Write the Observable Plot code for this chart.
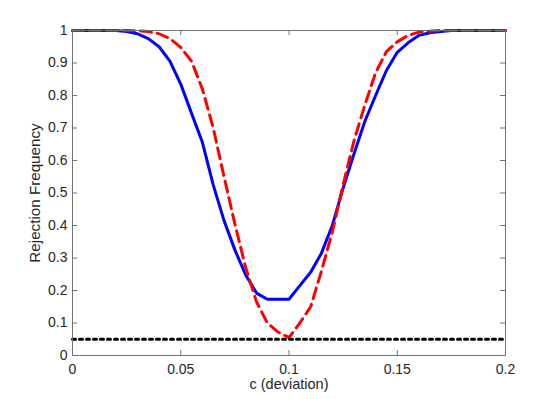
<!DOCTYPE html>
<html>
<head>
<meta charset="utf-8">
<script src="https://cdn.jsdelivr.net/npm/d3@7"></script>
<script src="https://cdn.jsdelivr.net/npm/@observablehq/plot@0.6"></script>
<style>
  html, body { margin: 0; padding: 0; background: #fff; }
  #chart { width: 558px; height: 399px; }
</style>
</head>
<body>
<div id="chart"></div>
<script>
// ---- data ----
const cValues = [0, 0.005, 0.01, 0.015, 0.02, 0.025, 0.03, 0.035, 0.04, 0.045,
  0.05, 0.055, 0.06, 0.065, 0.07, 0.075, 0.08, 0.085, 0.09, 0.095,
  0.1, 0.105, 0.11, 0.115, 0.12, 0.125, 0.13, 0.135, 0.14, 0.145,
  0.15, 0.155, 0.16, 0.165, 0.17, 0.175, 0.18, 0.185, 0.19, 0.195, 0.2];
const blueSeries = [1, 1, 1, 1, 1, 0.997, 0.99, 0.975, 0.95, 0.906,
  0.835, 0.745, 0.656, 0.525, 0.415, 0.325, 0.248, 0.192, 0.173, 0.173,
  0.173, 0.215, 0.256, 0.315, 0.40, 0.515, 0.62, 0.72, 0.80, 0.877,
  0.933, 0.962, 0.985, 0.993, 0.997, 1, 1, 1, 1, 1, 1];
const redSeries = [1, 1, 1, 1, 1, 1, 0.999, 0.997, 0.99, 0.975,
  0.948, 0.905, 0.82, 0.70, 0.55, 0.405, 0.27, 0.165, 0.10, 0.072,
  0.055, 0.10, 0.15, 0.26, 0.38, 0.525, 0.66, 0.77, 0.87, 0.935,
  0.965, 0.985, 0.995, 0.998, 1, 1, 1, 1, 1, 1, 1];
const levelX = [0, 0.2];
const levelY = [0.05, 0.05];
const xTicks = [0, 0.05, 0.1, 0.15, 0.2];
const xTickLabels = ["0", "0.05", "0.1", "0.15", "0.2"];
const yTicks = [0, 0.1, 0.2, 0.3, 0.4, 0.5, 0.6, 0.7, 0.8, 0.9, 1];
const yTickLabels = ["0", "0.1", "0.2", "0.3", "0.4", "0.5", "0.6", "0.7", "0.8", "0.9", "1"];
const xLabel = "c (deviation)";
const yLabel = "Rejection Frequency";

const blueData = cValues.map((c, i) => ({c, v: blueSeries[i]}));
const redData = cValues.map((c, i) => ({c, v: redSeries[i]}));
const levelData = levelX.map((c, i) => ({c, v: levelY[i]}));

const W = 558, H = 399, mL = 72, mR = 53, mT = 30, mB = 44;
const plotW = W - mL - mR, plotH = H - mT - mB;
const tickLen = 5;

const axisColor = "#707070";
const textColor = "#262626";
const font = "'Liberation Sans', Arial, Helvetica, sans-serif";

const xFmt = d => xTickLabels[xTicks.indexOf(d)];
const yFmt = d => yTickLabels[yTicks.indexOf(d)];

const chart = Plot.plot({
  width: W,
  height: H,
  marginLeft: mL,
  marginRight: mR,
  marginTop: mT,
  marginBottom: mB,
  style: {fontFamily: font, fontSize: "14px", background: "#fff", color: textColor},
  x: {domain: [0, 0.2]},
  y: {domain: [0, 1]},
  marks: [
    Plot.line(blueData, {x: "c", y: "v", stroke: "#0000ff", strokeWidth: 3, strokeLinejoin: "miter"}),
    Plot.line(redData, {x: "c", y: "v", stroke: "#ff0000", strokeWidth: 3, strokeDasharray: "11,6", strokeLinejoin: "miter"}),
    Plot.line(levelData, {x: "c", y: "v", stroke: "#000", strokeWidth: 3, strokeDasharray: "3,4"}),
    Plot.frame({stroke: axisColor, strokeWidth: 1}),
    // inward ticks on all four sides
    Plot.ruleX(xTicks, {x: d => d, insetTop: plotH - tickLen, stroke: axisColor}),
    Plot.ruleX(xTicks, {x: d => d, insetBottom: plotH - tickLen, stroke: axisColor}),
    Plot.ruleY(yTicks, {y: d => d, insetRight: plotW - tickLen, stroke: axisColor}),
    Plot.ruleY(yTicks, {y: d => d, insetLeft: plotW - tickLen, stroke: axisColor}),
    // tick labels
    Plot.axisX(xTicks, {anchor: "bottom", tickSize: 0, tickPadding: 9, tickFormat: xFmt, label: null, fill: textColor, fontSize: 14}),
    Plot.axisY(yTicks, {anchor: "left", tickSize: 0, tickPadding: 5, tickFormat: yFmt, label: null, fill: textColor, fontSize: 14}),
    // axis titles
    Plot.text([xLabel], {frameAnchor: "bottom", dy: 29, text: d => d, fill: textColor, fontSize: 14.5, textAnchor: "middle", lineAnchor: "middle"}),
    Plot.text([yLabel], {frameAnchor: "left", dx: -37, rotate: -90, text: d => d, fill: textColor, fontSize: 15.2, textAnchor: "middle", lineAnchor: "middle"})
  ]
});
document.getElementById("chart").appendChild(chart);
</script>
</body>
</html>
